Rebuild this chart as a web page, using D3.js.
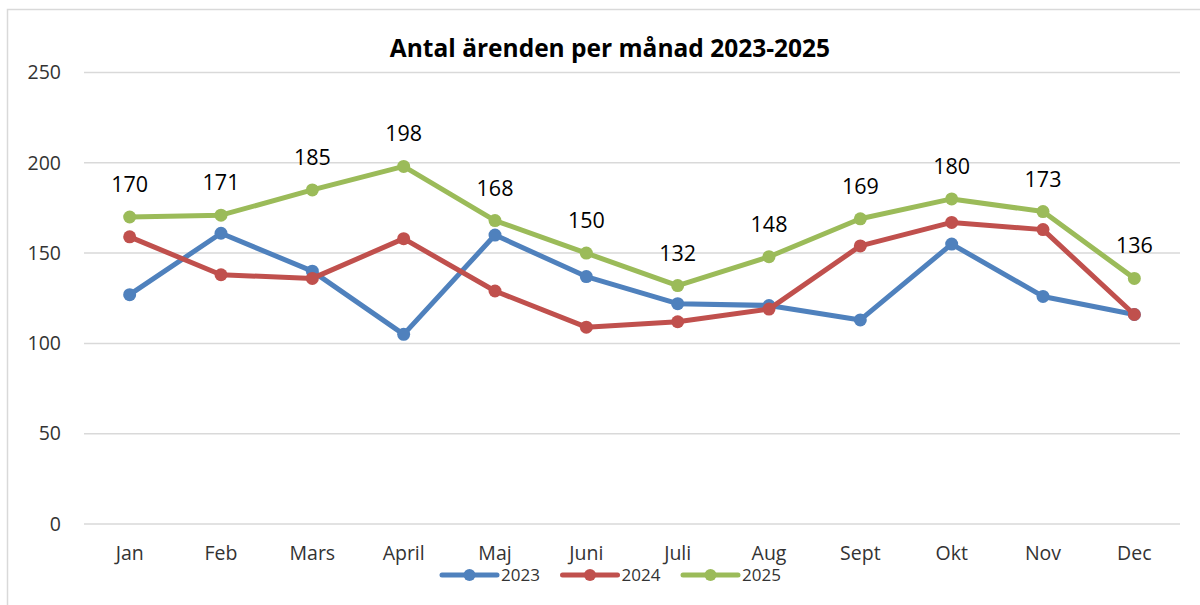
<!DOCTYPE html>
<html>
<head>
<meta charset="utf-8">
<script src="https://cdn.jsdelivr.net/npm/d3@7"></script>
<style>
body { margin: 0; background: #fff; }
text { font-family: "Open Sans", sans-serif; fill: #333; }
</style>
</head>
<body>
<script>
var months = ["Jan", "Feb", "Mars", "April", "Maj", "Juni", "Juli", "Aug", "Sept", "Okt", "Nov", "Dec"];
var v2023 = [127, 161, 140, 105, 160, 137, 122, 121, 113, 155, 126, 116];
var v2024 = [159, 138, 136, 158, 129, 109, 112, 119, 154, 167, 163, 116];
var v2025 = [170, 171, 185, 198, 168, 150, 132, 148, 169, 180, 173, 136];
var yTicks = [0, 50, 100, 150, 200, 250];

var series = [
	{name: "2023", values: v2023, color: "#4F81BD"},
	{name: "2024", values: v2024, color: "#C0504D"},
	{name: "2025", values: v2025, color: "#9BBB59", labels: true}
];

var width = 1200,
	height = 605;

var svg = d3.select("body").append("svg")
	.attr("width", width)
	.attr("height", height)
	.style("display", "block");

// chart border (cropped on right and bottom)
svg.append("rect")
	.attr("x", 7.5).attr("y", 9.5)
	.attr("width", 1200).attr("height", 700)
	.attr("fill", "none")
	.attr("stroke", "#d9d9d9")
	.attr("stroke-width", 1.5);

var x = d3.scaleBand()
	.domain(months)
	.range([84, 1180]);

var y = d3.scaleLinear()
	.domain([0, 250])
	.range([524, 72.5]);

// gridlines
svg.selectAll(".grid")
	.data(yTicks)
	.enter().append("line")
	.attr("x1", 84).attr("x2", 1180)
	.attr("y1", function(d) { return y(d); })
	.attr("y2", function(d) { return y(d); })
	.attr("stroke", "#d9d9d9")
	.attr("stroke-width", 1.5);

var yAxis = d3.axisLeft(y).tickValues(yTicks).tickSize(0).tickPadding(0);
var gy = svg.append("g").attr("transform", "translate(61,0)").call(yAxis);
gy.select(".domain").remove();
gy.selectAll("text").style("font-size", "19.5px").attr("fill", "#333");

var xAxis = d3.axisBottom(x).tickSize(0).tickPadding(0);
var gx = svg.append("g").attr("transform", "translate(0,546)").call(xAxis);
gx.select(".domain").remove();
gx.selectAll("text").style("font-size", "19.5px").attr("fill", "#333");

svg.append("text")
	.attr("x", 610).attr("y", 57)
	.attr("text-anchor", "middle")
	.style("font-size", "24.5px")
	.style("font-weight", "bold")
	.style("fill", "#000")
	.text("Antal ärenden per månad 2023-2025");

var cx = function(d, i) { return x(months[i]) + x.bandwidth() / 2; };

var line = d3.line()
	.x(cx)
	.y(function(d) { return y(d); });

series.forEach(function(s) {
	svg.append("path")
		.datum(s.values)
		.attr("d", line)
		.attr("fill", "none")
		.attr("stroke", s.color)
		.attr("stroke-width", 5)
		.attr("stroke-linejoin", "round")
		.attr("stroke-linecap", "round");

	svg.selectAll(".pt" + s.name)
		.data(s.values)
		.enter().append("circle")
		.attr("cx", cx)
		.attr("cy", function(d) { return y(d); })
		.attr("r", 6.5)
		.attr("fill", s.color);

	if (s.labels) {
		svg.selectAll(".lbl" + s.name)
			.data(s.values)
			.enter().append("text")
			.attr("x", cx)
			.attr("y", function(d) { return y(d) - 25; })
			.attr("text-anchor", "middle")
			.style("font-size", "21.5px")
			.style("fill", "#000")
			.text(function(d) { return d; });
	}
});

// legend
var legend = svg.selectAll(".legend")
	.data(series)
	.enter().append("g")
	.attr("transform", function(d, i) { return "translate(" + (442 + i * 120.5) + ",575)"; });

legend.append("line")
	.attr("x1", 0).attr("x2", 55)
	.attr("stroke", function(d) { return d.color; })
	.attr("stroke-width", 5)
	.attr("stroke-linecap", "round");
legend.append("circle")
	.attr("cx", 27.5).attr("r", 6)
	.attr("fill", function(d) { return d.color; });
legend.append("text")
	.attr("x", 59).attr("y", 6)
	.style("font-size", "17px")
	.text(function(d) { return d.name; });
</script>
</body>
</html>
